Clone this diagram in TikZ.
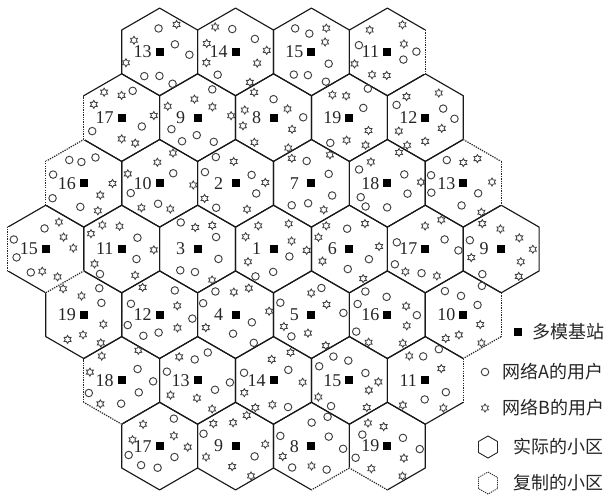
\documentclass[tikz,border=0pt]{standalone}
\usepackage{fontspec}
\setmainfont{Liberation Serif}
\newfontfamily\cjk{Noto Sans CJK SC}
\usetikzlibrary{shapes.geometric}
\begin{document}
\begin{tikzpicture}[x=1pt,y=-1pt,
  cell/.style={line width=1.15pt, draw=black!90, line join=round},
  dashedge/.style={line width=1.15pt, draw=black!85, dash pattern=on 1.3pt off 1.1pt},
  eraser/.style={line width=2.2pt, draw=white},
  bs/.style={rectangle, fill=black, minimum size=8pt, inner sep=0pt},
  lab/.style={font=\fontsize{18}{18}\selectfont, inner sep=0pt, text=black!85},
  ua/.style={circle, draw=black!75, line width=0.95pt, minimum size=7.5pt, inner sep=0pt},
  ub/.style={star, star points=6, star point ratio=1.7, draw=black!75, line width=0.85pt, minimum size=8pt, inner sep=0pt},
  legtxt/.style={font=\cjk\fontsize{18}{18}\selectfont, anchor=west, inner sep=0pt, text=black!85}]
\useasboundingbox (0,0) rectangle (608,496);
\def\R{43.8}
\def\cells{
 159.65/51.9/13, 235.55/51.9/14, 311.45/51.9/15, 387.35/51.9/11,
 121.7/117.6/17, 197.6/117.6/9, 273.5/117.6/8, 349.4/117.6/19, 425.3/117.6/12,
 83.75/183.3/16, 159.65/183.3/10, 235.55/183.3/2, 311.45/183.3/7, 387.35/183.3/18, 463.25/183.3/13,
 45.8/249/15, 121.7/249/11, 197.6/249/3, 273.5/249/1, 349.4/249/6, 425.3/249/17, 501.2/249/9,
 83.75/314.7/19, 159.65/314.7/12, 235.55/314.7/4, 311.45/314.7/5, 387.35/314.7/16, 463.25/314.7/10,
 121.7/380.4/18, 197.6/380.4/13, 273.5/380.4/14, 349.4/380.4/15, 425.3/380.4/11,
 159.65/446.1/17, 235.55/446.1/9, 311.45/446.1/8, 387.35/446.1/19}
% cell outlines
\foreach \cx/\cy/\lab [count=\c] in \cells {
  \draw[cell] (\cx,\cy) +(-90:\R) -- +(-30:\R) -- +(30:\R) -- +(90:\R) -- +(150:\R) -- +(210:\R) -- cycle;
}
% dashed (copied) outer edges
\foreach \cx/\cy/\a/\b in {
  387.35/51.9/-30/30,
  121.7/117.6/150/210,
  83.75/183.3/-150/-90, 83.75/183.3/150/210,
  463.25/183.3/-90/-30, 463.25/183.3/-30/30,
  45.8/249/150/210,
  83.75/314.7/-150/-90,
  463.25/314.7/-30/30, 463.25/314.7/30/90,
  121.7/380.4/150/210, 121.7/380.4/90/150,
  425.3/380.4/-30/30,
  311.45/446.1/30/90,
  387.35/446.1/90/150} {
  \draw[eraser] (\cx,\cy) +(\a:\R) -- +(\b:\R);
  \draw[dashedge] (\cx,\cy) +(\a:\R) -- +(\b:\R);
}
% stations, labels, users
\pgfmathsetseed{4711}
\foreach \cx/\cy/\lab [count=\c] in \cells {
  \node[bs] (b\c) at (\cx,\cy) {};
  \node[lab] (l\c) at (\cx-17,\cy) {\lab};
  \foreach \sa/\sr [count=\u] in {-160/31,-128/30,-96/21,-64/31,-30/20,0/31,30/21,62/31,96/21,128/30,158/32} {
    \pgfmathsetmacro\ang{\sa+14*(rnd-0.5)}
    \pgfmathsetmacro\rad{\sr+7*(rnd-0.5)}
    \pgfmathsetmacro\typ{rnd}
    \pgfmathsetmacro\ux{\cx+\rad*cos(\ang)}
    \pgfmathsetmacro\uy{\cy+\rad*sin(\ang)}
    \pgfmathtruncatemacro\skip{mod(\c*3+\u,5)}
    \ifnum\skip>0
      \ifdim\typ pt<0.5pt
        \node[ua] (u\c-\u) at (\ux,\uy) {};
      \else
        \node[ub] (u\c-\u) at (\ux,\uy) {};
      \fi
    \fi
  }
}
% legend
\node[bs] (lbs) at (518,332) {};
\node[legtxt] (t1) at (532,332) {多模基站};
\node[ua] (lua) at (485,372) {};
\node[legtxt] (t2) at (502,372) {网络A的用户};
\node[ub] (lub) at (485,408) {};
\node[legtxt] (t3) at (502,408) {网络B的用户};
\coordinate (h1) at (488,447);
\draw[line width=0.9pt, draw=black!85] (h1) +(-90:11) -- +(-30:11) -- +(30:11) -- +(90:11) -- +(150:11) -- +(210:11) -- cycle;
\node[legtxt] (t4) at (513,447) {实际的小区};
\coordinate (h2) at (488,483);
\draw[line width=0.9pt, draw=black!85, dash pattern=on 1.2pt off 1pt] (h2) +(-90:11) -- +(-30:11) -- +(30:11) -- +(90:11) -- +(150:11) -- +(210:11) -- cycle;
\node[legtxt] (t5) at (513,483) {复制的小区};
\end{tikzpicture}
\end{document}
